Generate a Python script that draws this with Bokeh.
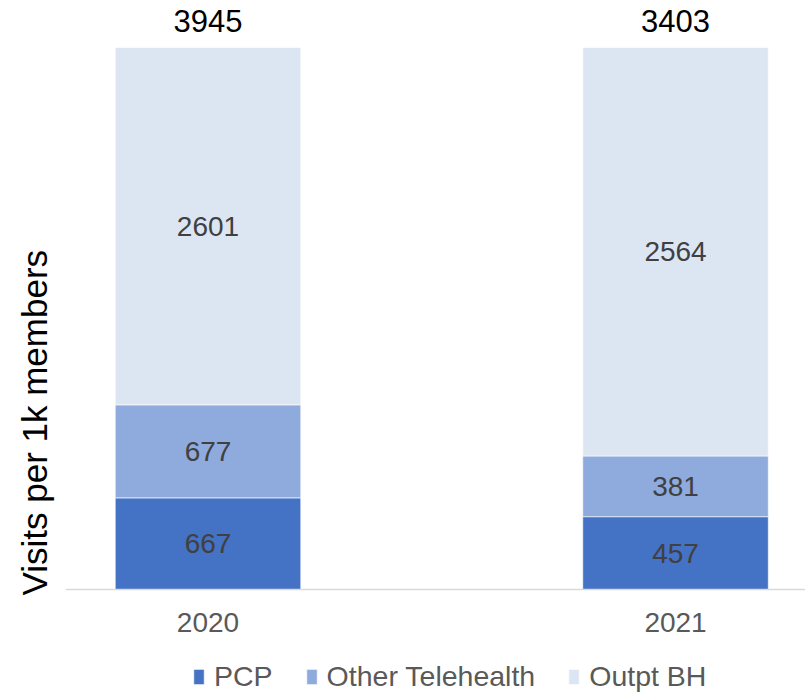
import numpy as np
from bokeh.plotting import figure
from bokeh.models import ColumnDataSource, Range1d, Legend, LegendItem, Title, Span
from bokeh.core.properties import value
from bokeh.embed import file_html
from bokeh.resources import INLINE

categories = ["2020", "2021"]
series = ["PCP", "Other Telehealth", "Outpt BH"]
pcp = [667, 457]
other_tele = [677, 381]
outpt_bh = [2601, 2564]
totals = [3945, 3403]
colors = ["#4472C4", "#8FAADC", "#DCE6F3"]

FONT = "Liberation Sans, Arial, sans-serif"

vals = np.array([pcp, other_tele, outpt_bh], dtype=float)
frac = vals / vals.sum(axis=0)
cum = np.cumsum(frac, axis=0)
mids = cum - frac / 2
xs = [i + 0.5 for i in range(len(categories))]

data = {"x": xs}
for s, f in zip(series, frac):
    data[s] = list(f)
src = ColumnDataSource(data)

FRAME_H = 694
AXIS_Y = 589            # pixel row of the category axis
TOP_Y = 47              # pixel row of the top of a full bar
BAR_PX = AXIS_Y - TOP_Y  # pixel height of a full (100%) bar
PX_X = 467.5            # pixels per category step

p = figure(frame_width=740, frame_height=FRAME_H,
           x_range=Range1d(0.1952, 1.778),
           y_range=Range1d(-(FRAME_H - AXIS_Y) / BAR_PX, AXIS_Y / BAR_PX),
           output_backend="svg", toolbar_location=None,
           min_border_left=65, min_border_right=0, min_border_top=0, min_border_bottom=0)
p.outline_line_color = None
p.grid.visible = False
p.xaxis.visible = False
p.yaxis.visible = False

rs = p.vbar_stack(series, x="x", width=185.5 / PX_X, source=src, color=colors,
                  line_color="white", line_width=0.6)

# category axis line and labels
p.add_layout(Span(location=0, dimension="width", line_color="#D9D9D9", line_width=1.5))
p.text(x=xs, y=[-33 / BAR_PX] * len(xs), text=categories, text_align="center",
       text_baseline="middle", text_font=value(FONT), text_font_size="28px",
       text_color="#595959")

# segment labels
lab_x, lab_y, lab_t = [], [], []
for si in range(len(series)):
    for ci in range(len(categories)):
        lab_x.append(xs[ci]); lab_y.append(mids[si, ci]); lab_t.append(str(int(vals[si, ci])))
p.text(x=lab_x, y=lab_y, text=lab_t, text_align="center", text_baseline="middle",
       text_font=value(FONT), text_font_size="28px", text_color="#404040")

# totals above the bars
p.text(x=xs, y=list(cum[-1] + 27 / BAR_PX), text=[str(t) for t in totals], text_align="center",
       text_baseline="alphabetic",
       text_font=value(FONT), text_font_size="31px", text_color="#000000")

ylab = Title(text="Visits per 1k members", align="left", offset=-6 + (FRAME_H - AXIS_Y), standoff=24,
             text_font=FONT, text_font_size="35px", text_color="#000000",
             text_font_style="normal")
p.add_layout(ylab, "left")

legend = Legend(items=[LegendItem(label=s, renderers=[r]) for s, r in zip(series, rs)],
                orientation="horizontal", location=(127, 1),
                glyph_width=13, glyph_height=19, label_standoff=9, spacing=32,
                padding=0, margin=0, border_line_color=None, background_fill_alpha=0,
                label_text_font=FONT, label_text_font_size="28.5px", label_text_color="#595959",
                label_height=30)
p.add_layout(legend)

open("out.html", "w").write(file_html(p, INLINE))
